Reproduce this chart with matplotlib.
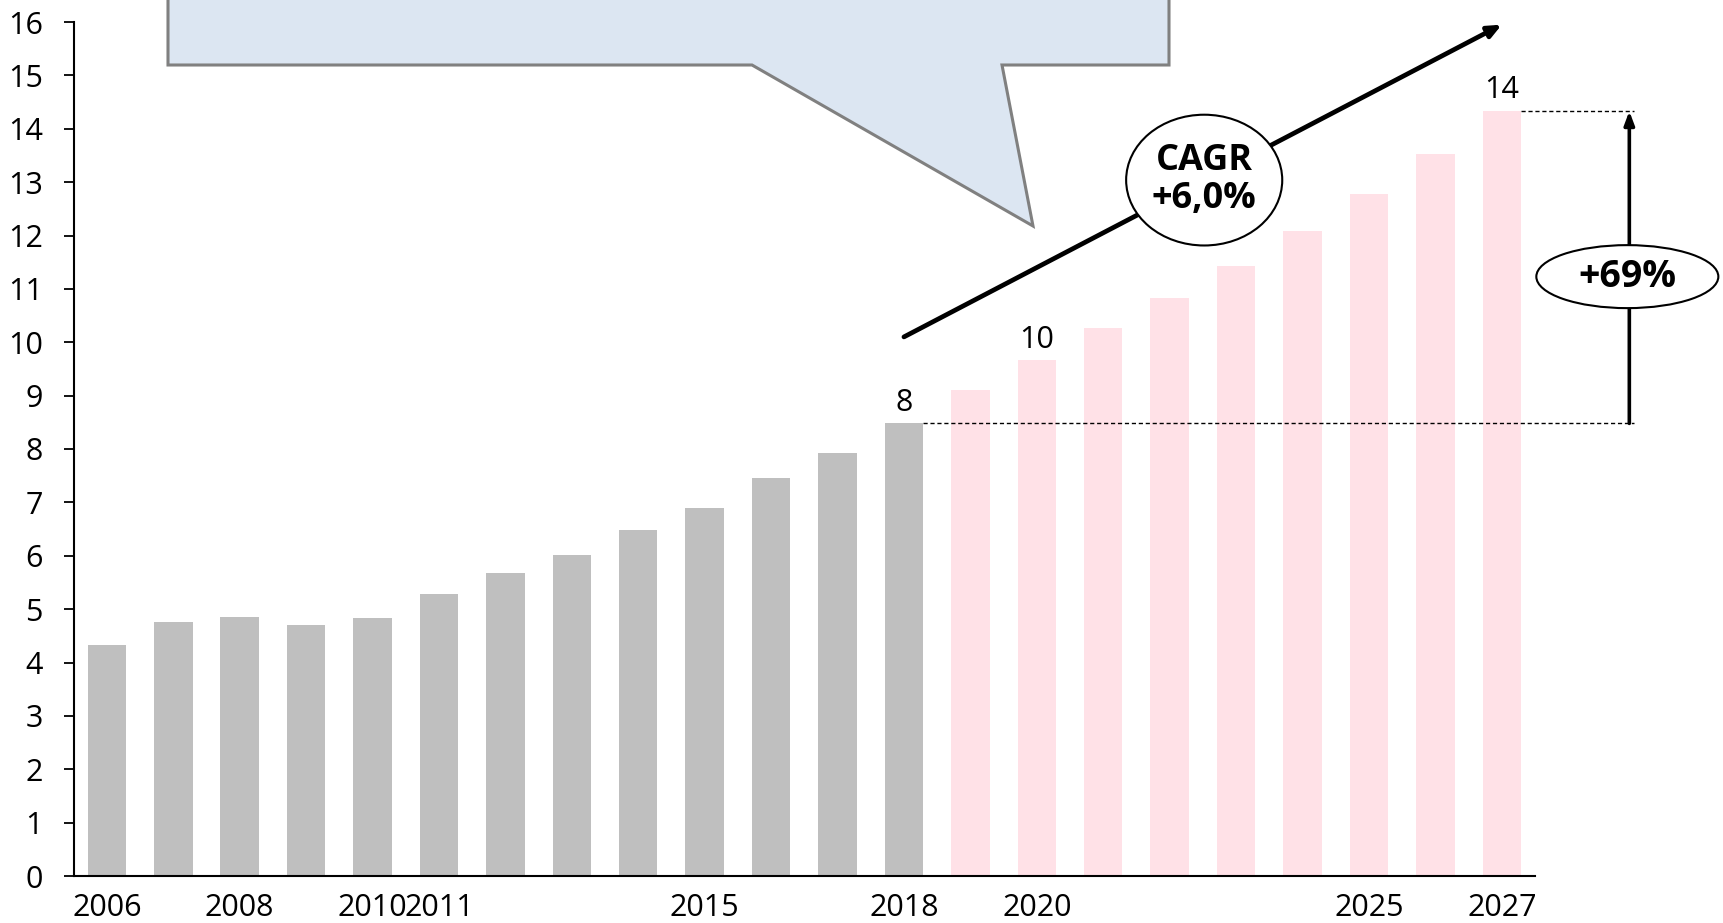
import matplotlib
matplotlib.use('Agg')
import matplotlib.pyplot as plt
from matplotlib.patches import Ellipse, Polygon
import numpy as np

# ---- data ----
years = list(range(2006, 2028))
values = [4.32, 4.76, 4.86, 4.70, 4.84, 5.29, 5.68, 6.01, 6.49, 6.90, 7.45,
          7.93, 8.48, 9.10, 9.66, 10.26, 10.83, 11.43, 12.09, 12.77, 13.53, 14.33]
shown_year_labels = [2006, 2008, 2010, 2011, 2015, 2018, 2020, 2025, 2027]
value_labels = {2018: "8", 2020: "10", 2027: "14"}
last_actual_year = 2018
cagr_text = "CAGR\n+6,0%"
growth_text = "+69%"

plt.rcParams['font.family'] = ['Open Sans', 'DejaVu Sans']

W, H = 1723, 923
fig = plt.figure(figsize=(W / 100, H / 100), dpi=100)
ax = fig.add_axes([73.6 / W, 1 - 876 / H, (1535 - 73.6) / W, (876 - 22) / H])

x = np.arange(len(years))
colors = ['#BFBFBF' if y <= last_actual_year else '#FFE1E7' for y in years]
bw = 0.58
ax.bar(x, values, width=bw, color=colors, linewidth=0, zorder=2)

ax.set_xlim(-0.5, len(years) - 0.5)
ax.set_ylim(0, 16)
ax.set_yticks(range(0, 17))
ax.set_xticks(x)
ax.set_xticklabels([str(y) if y in shown_year_labels else '' for y in years])
ax.tick_params(axis='x', length=0, pad=12, labelsize=22)
ax.tick_params(axis='y', length=7, width=1.3, direction='out', labelsize=22, pad=15)
for s in ['top', 'right']:
    ax.spines[s].set_visible(False)
ax.spines['left'].set_linewidth(1.5)
ax.spines['bottom'].set_linewidth(1.5)

# value labels
for yr, txt in value_labels.items():
    i = years.index(yr)
    ax.text(i, values[i] + 0.24, txt, ha='center', va='baseline', fontsize=22)

# reference indices
i0 = years.index(last_actual_year)
i1 = len(years) - 1
v0, v1 = values[i0], values[i1]

# dashed guide lines
xr = i1 + 1.92
ax.plot([i0 + bw / 2, xr + 0.07], [v0, v0], ls=(0, (3, 2)), color='black', lw=1, clip_on=False, zorder=3)
ax.plot([i1 + bw / 2, xr + 0.07], [v1, v1], ls=(0, (3, 2)), color='black', lw=1, clip_on=False, zorder=3)

# vertical growth arrow
ax.annotate('', xy=(xr, v1), xytext=(xr, v0),
            arrowprops=dict(arrowstyle='-|>,head_length=0.8,head_width=0.3', lw=2.6, color='black',
                            shrinkA=0, shrinkB=0),
            annotation_clip=False, zorder=4)
ey = v0 + 0.47 * (v1 - v0)
ax.add_patch(Ellipse((xr - 0.03, ey), 2.74, 1.18, facecolor='white',
                     edgecolor='black', lw=1.5, clip_on=False, zorder=5))
ax.text(xr - 0.03, ey, growth_text, ha='center', va='center', fontsize=27,
        fontweight='bold', zorder=6, clip_on=False)

# CAGR arrow
off = 1.62
ax.annotate('', xy=(i1, v1 + off), xytext=(i0, v0 + off),
            arrowprops=dict(arrowstyle='-|>,head_length=0.8,head_width=0.35', lw=3.4, color='black',
                            shrinkA=0, shrinkB=0),
            annotation_clip=False, zorder=4)
cx = 16.52
cy = v0 + off + (cx - i0) / (i1 - i0) * (v1 - v0)
ax.add_patch(Ellipse((cx, cy), 2.35, 2.45, facecolor='white', edgecolor='black',
                     lw=1.5, clip_on=False, zorder=5))
ax.text(cx, cy, cagr_text, ha='center', va='center', fontsize=26, fontweight='bold',
        linespacing=1.1, zorder=6)

# callout shape (pixel coordinates of the figure, from top-left)
pts_px = [(168, -20), (1169, -20), (1169, 65), (1002, 65), (1033, 226), (752, 65), (168, 65)]
pts = [(px / W, 1 - py / H) for px, py in pts_px]
fig.add_artist(Polygon(pts, closed=True, facecolor='#DCE6F2', edgecolor='#808080',
                       lw=2.2, transform=fig.transFigure, zorder=10))

fig.savefig('out.png', dpi=100)
